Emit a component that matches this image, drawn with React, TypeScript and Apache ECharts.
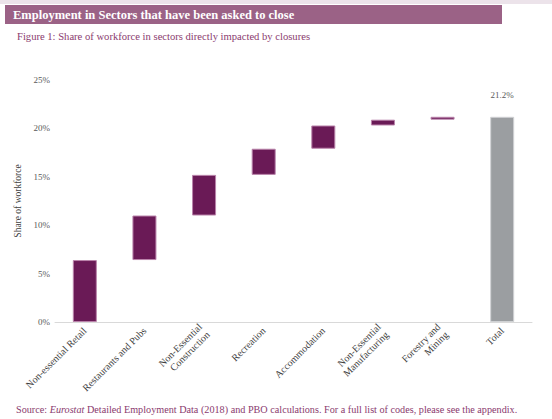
import React, { useEffect, useRef } from "react";
import * as echarts from "echarts";

const categories = [
  "Non-essential Retail",
  "Restaurants and Pubs",
  "Non-Essential\nConstruction",
  "Recreation",
  "Accommodation",
  "Non-Essential\nManufacturing",
  "Forestry and\nMining",
  "Total",
];
const sectorShares = [6.4, 4.6, 4.2, 2.7, 2.4, 0.6, 0.3];
const totalShare = 21.2;
const yTicks = [0, 5, 10, 15, 20, 25];

const FONT = "'Liberation Serif', 'DejaVu Serif', serif";

export default function App() {
  const ref = useRef<HTMLDivElement>(null);
  useEffect(() => {
    if (!ref.current) return;
    const chart = echarts.init(ref.current, undefined, { renderer: "svg" });
    const bases: (number | string)[] = [];
    let acc = 0;
    sectorShares.forEach((v) => {
      bases.push(+acc.toFixed(2));
      acc += v;
    });
    bases.push("-");
    const steps: (number | string)[] = [...sectorShares, "-"];
    const totals: (number | string)[] = sectorShares.map(() => "-");
    totals.push(totalShare);

    chart.setOption({
      animation: false,
      backgroundColor: "#ffffff",
      textStyle: { fontFamily: FONT },
      graphic: [
        { type: "rect", shape: { x: 0, y: 0, width: 552, height: 4 }, style: { fill: "#ece3ea" } },
        { type: "rect", shape: { x: 5, y: 5, width: 497, height: 19 }, style: { fill: "#9b6286" } },
        {
          type: "text",
          x: 13,
          y: 14.5,
          style: {
            text: "Employment in Sectors that have been asked to close",
            fill: "#ffffff",
            font: `bold 12.5px ${FONT}`,
            verticalAlign: "middle",
          },
        },
        {
          type: "text",
          x: 17,
          y: 36,
          style: {
            text: "Figure 1: Share of workforce in sectors directly impacted by closures",
            fill: "#8a3a6e",
            font: `10.6px ${FONT}`,
            verticalAlign: "middle",
          },
        },
        {
          type: "text",
          x: 16,
          y: 409,
          style: {
            text: "{n|Source: }{i|Eurostat}{n| Detailed Employment Data (2018) and PBO calculations. For a full list of codes, please see the appendix.}",
            verticalAlign: "middle",
            rich: {
              n: { fill: "#8a3a6e", font: `10.2px ${FONT}` },
              i: { fill: "#8a3a6e", font: `italic 10.2px ${FONT}` },
            },
          },
        },
      ],
      grid: { left: 55, right: 20, top: 80, bottom: 97, containLabel: false },
      xAxis: {
        type: "category",
        data: categories,
        axisLine: { lineStyle: { color: "#d9d9d9", width: 1 } },
        axisTick: { show: false },
        axisLabel: {
          interval: 0,
          rotate: 45,
          margin: 7,
          fontSize: 10,
          color: "#404040",
          fontFamily: FONT,
          lineHeight: 11,
        },
      },
      yAxis: {
        type: "value",
        min: 0,
        max: 25,
        interval: 5,
        axisLine: { show: false },
        axisTick: { show: false },
        splitLine: { show: false },
        axisLabel: {
          formatter: (v: number) => (yTicks.includes(v) ? `${v}%` : ""),
          fontSize: 9,
          color: "#595959",
          fontFamily: FONT,
          margin: 5,
        },
        name: "Share of workforce",
        nameLocation: "middle",
        nameRotate: 90,
        nameGap: 29,
        nameTextStyle: { fontSize: 9.5, color: "#404040", fontFamily: FONT },
      },
      series: [
        {
          type: "bar",
          stack: "w",
          data: bases,
          barWidth: 24,
          itemStyle: { color: "transparent" },
          silent: true,
        },
        {
          type: "bar",
          stack: "w",
          data: steps,
          barWidth: 24,
          itemStyle: { color: "#6a1a56", borderColor: "#b983aa", borderWidth: 1 },
        },
        {
          type: "bar",
          stack: "w",
          data: totals,
          barWidth: 24,
          itemStyle: { color: "#9b9ea1", borderColor: "#d0d2d4", borderWidth: 1 },
          label: {
            show: true,
            position: "top",
            distance: 17,
            formatter: "{c}%",
            fontSize: 9,
            color: "#595959",
            fontFamily: FONT,
          },
        },
      ],
    });
    return () => chart.dispose();
  }, []);
  return <div ref={ref} style={{ width: 552, height: 419, position: "absolute", left: 0, top: 0 }} />;
}
